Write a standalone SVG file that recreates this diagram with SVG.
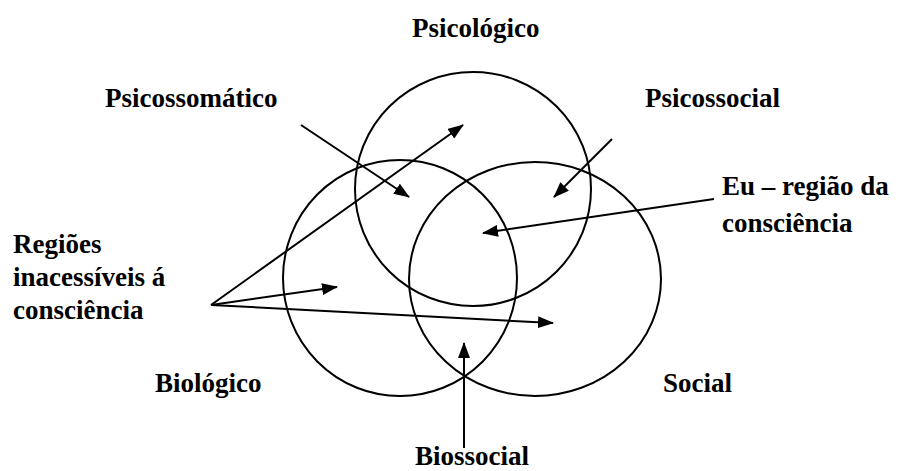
<svg xmlns="http://www.w3.org/2000/svg" width="905" height="471" viewBox="0 0 905 471">
<style>
.c{fill:none;stroke:#000;stroke-width:2}
.a{fill:none;stroke:#000;stroke-width:2}
.t{font-family:'Liberation Serif','Times New Roman','DejaVu Serif',serif;font-weight:700;font-size:27px;fill:#000}
</style>
<defs>
<marker id="ah" viewBox="0 0 16 12" refX="15" refY="6" markerWidth="16" markerHeight="12" markerUnits="userSpaceOnUse" orient="auto">
<path d="M0,0 L16,6 L0,12 Z" fill="#000"/>
</marker>
</defs>
<rect width="905" height="471" fill="#fff"/>
<g id="psicologico"><ellipse class="c" cx="473" cy="189" rx="118" ry="117"/><text class="t" x="412" y="37">Psicológico</text></g>
<g id="biologico"><ellipse class="c" cx="400" cy="278" rx="117" ry="118"/><text class="t" x="155" y="392">Biológico</text></g>
<g id="social"><ellipse class="c" cx="535" cy="279" rx="126" ry="117"/><text class="t" x="663" y="392">Social</text></g>
<g id="psicossomatico"><text class="t" x="105" y="107">Psicossomático</text></g>
<g id="psicossocial"><text class="t" x="645" y="107">Psicossocial</text></g>
<g id="eu"><text class="t" x="722" y="195">Eu – região da</text><text class="t" x="722" y="232">consciência</text></g>
<g id="regioes"><text class="t" x="13" y="253">Regiões</text><text class="t" x="13" y="286">inacessíveis á</text><text class="t" x="13" y="319">consciência</text></g>
<g id="biossocial"><text class="t" x="415" y="465">Biossocial</text></g>
<g id="connectors">
<line class="a" x1="301" y1="125" x2="409" y2="197" marker-end="url(#ah)"/>
<line class="a" x1="211" y1="305" x2="463" y2="125" marker-end="url(#ah)"/>
<line class="a" x1="211" y1="305" x2="337" y2="287" marker-end="url(#ah)"/>
<line class="a" x1="211" y1="305" x2="553" y2="323" marker-end="url(#ah)"/>
<line class="a" x1="612" y1="139" x2="554" y2="197" marker-end="url(#ah)"/>
<line class="a" x1="714" y1="199" x2="483" y2="233" marker-end="url(#ah)"/>
<line class="a" x1="464" y1="448" x2="464" y2="343" marker-end="url(#ah)"/>
</g>
</svg>
